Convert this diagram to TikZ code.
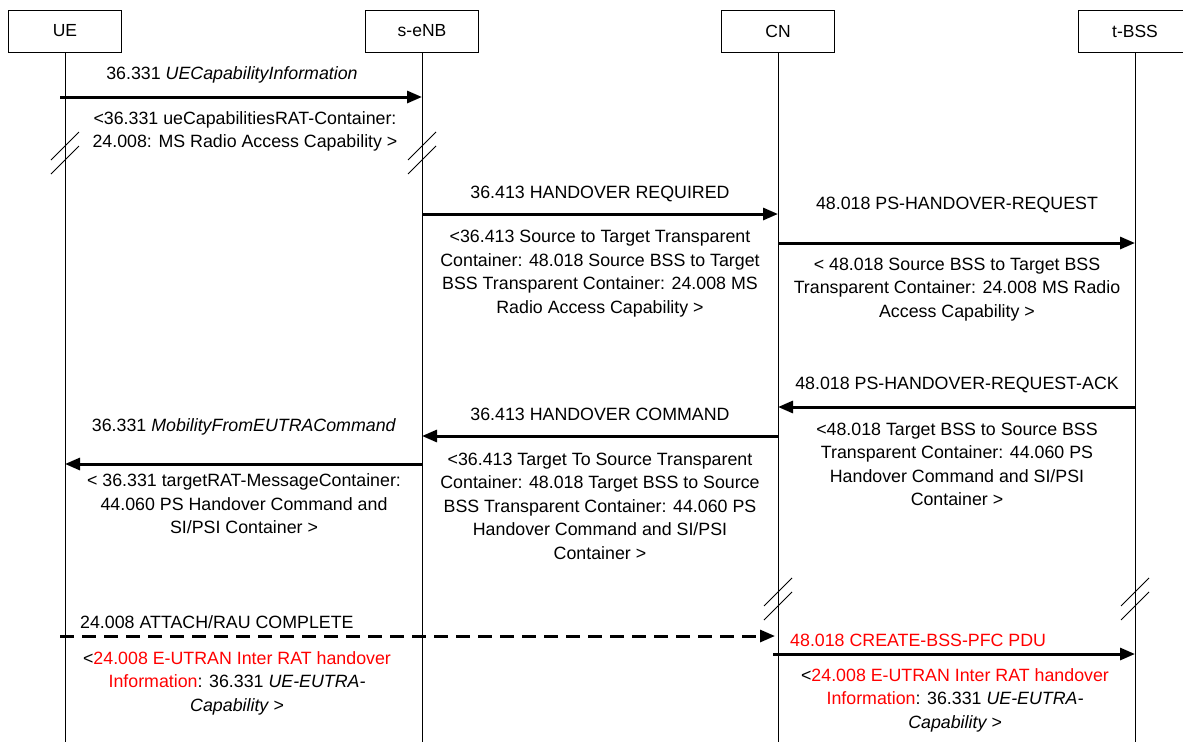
\documentclass[tikz,border=0pt]{standalone}
\usepackage{fontspec}
\setmainfont{Liberation Sans}
\usetikzlibrary{arrows.meta}
\begin{document}
\begin{tikzpicture}[x=1pt,y=-1pt,
  entity/.style={draw,line width=1pt,minimum width=113pt,minimum height=42pt,inner sep=0pt,font=\fontsize{17.5}{20}\selectfont},
  life/.style={line width=0.9pt},
  msg/.style={line width=3pt,-{Triangle[length=15pt,width=12pt]}},
  dmsg/.style={msg,dash pattern=on 14pt off 8pt},
  lbl/.style={inner sep=0pt,font=\fontsize{17.8}{23.5}\selectfont,align=center},
  brk/.style={line width=0.9pt}]
\useasboundingbox (0,0) rectangle (1183,742);
\fill[white] (0,0) rectangle (1183,742);
% entities
\node[entity] (ue) at (65,31) {UE};
\node[entity] (enb) at (422,31) {s-eNB};
\node[entity] (cn) at (778,31) {CN};
\node[entity] (bss) at (1135,31) {t-BSS};
% lifelines
\coordinate (ueE) at (65,742);
\coordinate (enbE) at (422,742);
\coordinate (cnE) at (778,742);
\coordinate (bssE) at (1135,742);
\draw[life] (ue.south) -- (ueE);
\draw[life] (enb.south) -- (enbE);
\draw[life] (cn.south) -- (cnE);
\draw[life] (bss.south) -- (bssE);
% breaks
\foreach \xx/\yy in {65/152,422/152,778/598,1135/598}{
  \draw[brk] (\xx-14,\yy+8) -- (\xx+14,\yy-20);
  \draw[brk] (\xx-14,\yy+22) -- (\xx+14,\yy-6);
}
% message 1
\draw[msg] (ue.south |- 0,97) ++(-5,0) -- (enb.south |- 0,97);
\node[lbl] (l1) at (232,75) {36.331 \textit{UECapabilityInformation}};
\node[lbl] (p1) at (245,131.5) {<36.331 ueCapabilitiesRAT-Container:\\24.008: MS Radio Access Capability >};
% message 2
\draw[msg] (enb.south |- 0,214) -- (cn.south |- 0,214);
\node[lbl] (l2) at (600,194) {36.413 HANDOVER REQUIRED};
\node[lbl] (p2) at (600,273.5) {<36.413 Source to Target Transparent\\Container: 48.018 Source BSS to Target\\BSS Transparent Container: 24.008 MS\\Radio Access Capability >};
% message 3
\draw[msg] (cn.south |- 0,243) -- (bss.south |- 0,243);
\node[lbl] (l3) at (957,205) {48.018 PS-HANDOVER-REQUEST};
\node[lbl] (p3) at (957,289.5) {< 48.018 Source BSS to Target BSS\\Transparent Container: 24.008 MS Radio\\Access Capability >};
% message 4
\draw[msg] (bss.south |- 0,407) -- (cn.south |- 0,407);
\node[lbl] (l4) at (957,385) {48.018 PS-HANDOVER-REQUEST-ACK};
\node[lbl] (p4) at (957,464.5) {<48.018 Target BSS to Source BSS\\Transparent Container: 44.060 PS\\Handover Command and SI/PSI\\Container >};
% message 5
\draw[msg] (cn.south |- 0,436) -- (enb.south |- 0,436);
\node[lbl] (l5) at (600,414) {36.413 HANDOVER COMMAND};
\node[lbl] (p5) at (600,506) {<36.413 Target To Source Transparent\\Container: 48.018 Target BSS to Source\\BSS Transparent Container: 44.060 PS\\Handover Command and SI/PSI\\Container >};
% message 6
\draw[msg] (enb.south |- 0,464) -- (ue.south |- 0,464);
\node[lbl] (l6) at (244,427) {36.331 \textit{MobilityFromEUTRACommand}};
\node[lbl] (p6) at (244,504) {< 36.331 targetRAT-MessageContainer:\\44.060 PS Handover Command and\\SI/PSI Container >};
% message 7
\draw[dmsg] (ue.south |- 0,636) ++(-5,0) -- ([xshift=-3pt]cn.south |- 0,636);
\node[lbl,anchor=west] (l7) at (80,622) {24.008 ATTACH/RAU COMPLETE};
\node[lbl] (p7) at (237,683) {<\textcolor{red}{24.008 E-UTRAN Inter RAT handover}\\\textcolor{red}{Information}: 36.331 \textit{UE-EUTRA-}\\\textit{Capability >}};
% message 8
\draw[msg] ([xshift=-5pt]cn.south |- 0,654) -- (bss.south |- 0,654);
\node[lbl,anchor=west,text=red] (l8) at (790,640) {48.018 CREATE-BSS-PFC PDU};
\node[lbl] (p8) at (955,700) {<\textcolor{red}{24.008 E-UTRAN Inter RAT handover}\\\textcolor{red}{Information}: 36.331 \textit{UE-EUTRA-}\\\textit{Capability >}};
\end{tikzpicture}
\end{document}
